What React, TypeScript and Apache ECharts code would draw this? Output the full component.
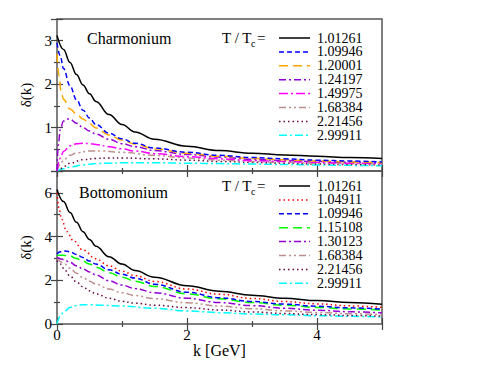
import React, { useEffect, useRef } from "react";
import * as echarts from "echarts";

const FONT = "Liberation Serif";

// ---- Charmonium (top panel) ----
const charmNames = ["1.01261", "1.09946", "1.20001", "1.24197", "1.49975", "1.68384", "2.21456", "2.99911"];
const cK1 = [0, 0.1, 0.2, 0.3, 0.4, 0.5, 0.6, 0.8, 1.0, 1.2, 1.5, 2, 2.5, 3, 3.5, 4, 4.5, 5];
const cV1 = [3.12, 2.8, 2.5, 2.22, 1.98, 1.78, 1.6, 1.3, 1.07, 0.9, 0.73, 0.57, 0.47, 0.41, 0.37, 0.34, 0.31, 0.29];
const cK2 = [0, 0.05, 0.1, 0.2, 0.3, 0.4, 0.5, 0.6, 0.8, 1.0, 1.2, 1.5, 2, 2.5, 3, 3.5, 4, 4.5, 5];
const cV2 = [2.95, 2.65, 2.36, 1.96, 1.64, 1.40, 1.22, 1.07, 0.87, 0.74, 0.64, 0.53, 0.43, 0.36, 0.31, 0.28, 0.25, 0.23, 0.21];
const cK3 = [0, 0.03, 0.06, 0.1, 0.2, 0.3, 0.4, 0.5, 0.6, 0.8, 1.0, 1.2, 1.5, 2, 2.5, 3, 3.5, 4, 4.5, 5];
const cV3 = [2.7, 2.2, 1.85, 1.65, 1.43, 1.31, 1.2, 1.09, 0.99, 0.83, 0.71, 0.62, 0.51, 0.41, 0.34, 0.29, 0.26, 0.23, 0.21, 0.19];
const cK4 = [0, 0.02, 0.05, 0.1, 0.15, 0.2, 0.3, 0.4, 0.5, 0.6, 0.8, 1.0, 1.2, 1.5, 2, 2.5, 3, 3.5, 4, 4.5, 5];
const cV4 = [0, 0.6, 0.95, 1.15, 1.2, 1.19, 1.1, 1.0, 0.92, 0.85, 0.73, 0.63, 0.56, 0.47, 0.38, 0.32, 0.27, 0.24, 0.22, 0.20, 0.18];
const cK5 = [0, 0.05, 0.1, 0.2, 0.3, 0.4, 0.5, 0.6, 0.8, 1.0, 1.2, 1.5, 2, 2.5, 3, 3.5, 4, 4.5, 5];
const cV5 = [0, 0.3, 0.45, 0.58, 0.63, 0.64, 0.63, 0.61, 0.56, 0.51, 0.46, 0.40, 0.33, 0.28, 0.24, 0.22, 0.20, 0.18, 0.17];
const cK6 = [0, 0.05, 0.1, 0.2, 0.3, 0.5, 0.7, 1.0, 1.5, 2, 2.5, 3, 3.5, 4, 4.5, 5];
const cV6 = [0, 0.15, 0.25, 0.36, 0.42, 0.46, 0.46, 0.43, 0.36, 0.30, 0.25, 0.22, 0.20, 0.18, 0.17, 0.16];
const cK7 = [0, 0.05, 0.1, 0.2, 0.4, 0.6, 0.8, 1.0, 1.5, 2, 2.5, 3, 3.5, 4, 4.5, 5];
const cV7 = [0, 0.05, 0.1, 0.18, 0.26, 0.29, 0.30, 0.30, 0.28, 0.25, 0.22, 0.20, 0.18, 0.16, 0.15, 0.14];
const cK8 = [0, 0.1, 0.2, 0.4, 0.6, 0.8, 1.0, 1.5, 2, 2.5, 3, 3.5, 4, 4.5, 5];
const cV8 = [0, 0.05, 0.09, 0.14, 0.17, 0.18, 0.19, 0.19, 0.18, 0.17, 0.16, 0.15, 0.14, 0.13, 0.12];

// ---- Bottomonium (bottom panel) ----
const bottNames = ["1.01261", "1.04911", "1.09946", "1.15108", "1.30123", "1.68384", "2.21456", "2.99911"];
const bK = [0, 0.1, 0.2, 0.3, 0.4, 0.5, 0.6, 0.8, 1.0, 1.2, 1.5, 2, 2.5, 3, 3.5, 4, 4.5, 5];
const bV1 = [6.15, 5.6, 5.1, 4.65, 4.22, 3.87, 3.56, 3.08, 2.74, 2.45, 2.14, 1.75, 1.5, 1.32, 1.18, 1.07, 0.98, 0.9];
const bK2 = [0, 0.03, 0.07, 0.15, 0.25, 0.4, 0.6, 0.8, 1.0, 1.2, 1.5, 2, 2.5, 3, 3.5, 4, 4.5, 5];
const bV2 = [6.0, 5.3, 4.8, 4.23, 3.82, 3.38, 2.98, 2.66, 2.42, 2.21, 1.95, 1.6, 1.36, 1.17, 1.03, 0.92, 0.83, 0.76];
const bK3 = [0, 0.05, 0.1, 0.15, 0.2, 0.3, 0.4, 0.5, 0.6, 0.8, 1.0, 1.2, 1.5, 2, 2.5, 3, 3.5, 4, 4.5, 5];
const bV3 = [3.2, 3.3, 3.34, 3.33, 3.3, 3.18, 3.04, 2.88, 2.74, 2.48, 2.28, 2.1, 1.82, 1.45, 1.2, 1.03, 0.91, 0.81, 0.74, 0.68];
const bV4 = [3.15, 3.14, 3.1, 3.0, 2.88, 2.74, 2.6, 2.35, 2.14, 1.96, 1.72, 1.38, 1.15, 0.98, 0.86, 0.76, 0.69, 0.63];
const bV5 = [3.05, 2.95, 2.82, 2.66, 2.52, 2.38, 2.24, 1.98, 1.78, 1.62, 1.43, 1.18, 0.98, 0.84, 0.72, 0.63, 0.56, 0.51];
const bV6 = [3.0, 2.8, 2.55, 2.32, 2.12, 1.96, 1.82, 1.6, 1.43, 1.3, 1.16, 0.97, 0.82, 0.7, 0.6, 0.53, 0.47, 0.43];
const bK7 = [0, 0.05, 0.1, 0.2, 0.3, 0.4, 0.5, 0.6, 0.8, 1.0, 1.2, 1.5, 2, 2.5, 3, 3.5, 4, 4.5, 5];
const bV7 = [2.9, 2.75, 2.55, 2.2, 1.92, 1.7, 1.52, 1.38, 1.18, 1.04, 0.95, 0.86, 0.75, 0.64, 0.55, 0.48, 0.43, 0.39, 0.36];
const bK8 = [0, 0.05, 0.1, 0.2, 0.3, 0.4, 0.5, 0.7, 1.0, 1.5, 2, 2.5, 3, 3.5, 4, 4.5, 5];
const bV8 = [0, 0.35, 0.55, 0.76, 0.85, 0.88, 0.88, 0.86, 0.82, 0.72, 0.6, 0.52, 0.46, 0.42, 0.38, 0.35, 0.32];

const STY: Record<string, { color: string; type: any }> = {
  "1.01261": { color: "#000000", type: "solid" },
  "1.04911": { color: "#ff0000", type: [1.5, 3] },
  "1.09946": { color: "#0000ff", type: [5, 3] },
  "1.15108": { color: "#00ff00", type: [9, 5] },
  "1.20001": { color: "#ffa500", type: [9, 5] },
  "1.24197": { color: "#9400d3", type: [7, 3, 2, 3] },
  "1.30123": { color: "#9400d3", type: [7, 3, 2, 3] },
  "1.49975": { color: "#ff00ff", type: [9, 3, 2, 3] },
  "1.68384": { color: "#bc8f8f", type: [7, 3, 2, 3, 2, 3] },
  "2.21456": { color: "#670748", type: [1.5, 3] },
  "2.99911": { color: "#00ffff", type: [8, 3, 2, 3] },
};

function pairs(k: number[], v: number[]) {
  return k.map((x, i) => [x, v[i]]);
}

function legendGraphics(names: string[], y0: number) {
  const els: any[] = [];
  names.forEach((n, i) => {
    const y = y0 + i * 13.9;
    const s = STY[n];
    els.push({
      type: "line",
      shape: { x1: 279, y1: y, x2: 310, y2: y },
      style: { stroke: s.color, lineWidth: 1.5, lineDash: s.type === "solid" ? null : s.type },
    });
    els.push({
      type: "text",
      x: 317,
      y,
      style: { text: n, fontFamily: FONT, fontSize: 14, fill: "#000", verticalAlign: "middle", align: "left" },
    });
  });
  return els;
}

export default function App() {
  const ref = useRef<HTMLDivElement>(null);
  useEffect(() => {
    if (!ref.current) return;
    const chart = echarts.init(ref.current, null, { renderer: "svg" });
    const tickCol = "#444";
    const labelStyle = { fontFamily: FONT, fontSize: 15, color: "#000" };

    const mkX = (grid: number, pos: string, labels: boolean) => ({
      type: "value",
      gridIndex: grid,
      position: pos,
      min: 0,
      max: 5,
      interval: 2,
      axisLine: { show: false },
      axisTick: { show: true, inside: true, length: 6, lineStyle: { color: tickCol, width: 1.2 } },
      minorTick: { show: true, splitNumber: 2, length: 3, lineStyle: { color: tickCol, width: 1.2 } },
      splitLine: { show: false },
      axisLabel: { show: labels, margin: 3, showMaxLabel: false, ...labelStyle },
    });
    const mkY = (grid: number, pos: string, max: number, interval: number, labels: boolean, showMin: boolean) => ({
      type: "value",
      gridIndex: grid,
      position: pos,
      min: 0,
      max,
      interval,
      axisLine: { show: false },
      axisTick: { show: true, inside: true, length: 6, lineStyle: { color: tickCol, width: 1.2 } },
      minorTick: { show: true, splitNumber: 2, length: 3, lineStyle: { color: tickCol, width: 1.2 } },
      splitLine: { show: false },
      axisLabel: { show: labels, margin: 5, showMinLabel: showMin, showMaxLabel: false, ...labelStyle },
    });

    const topSeries = [
      [cK1, cV1], [cK2, cV2], [cK3, cV3], [cK4, cV4], [cK5, cV5], [cK6, cV6], [cK7, cV7], [cK8, cV8],
    ].map(([k, v], i) => ({
      type: "line",
      name: charmNames[i],
      xAxisIndex: 0,
      yAxisIndex: 0,
      data: pairs(k as number[], v as number[]),
      showSymbol: false,
      symbol: "none",
      smooth: 0.4,
      smoothMonotone: "x",
      lineStyle: { width: 1.5, color: STY[charmNames[i]].color, type: STY[charmNames[i]].type },
      itemStyle: { color: STY[charmNames[i]].color },
      z: 10 - i,
    }));
    const bottomSeries = [
      [bK, bV1], [bK2, bV2], [bK3, bV3], [bK, bV4], [bK, bV5], [bK, bV6], [bK7, bV7], [bK8, bV8],
    ].map(([k, v], i) => ({
      type: "line",
      name: bottNames[i],
      xAxisIndex: 2,
      yAxisIndex: 2,
      data: pairs(k as number[], v as number[]),
      showSymbol: false,
      symbol: "none",
      smooth: 0.4,
      smoothMonotone: "x",
      lineStyle: { width: 1.5, color: STY[bottNames[i]].color, type: STY[bottNames[i]].type },
      itemStyle: { color: STY[bottNames[i]].color },
      z: 10 - i,
    }));

    const txt = (x: number, y: number, text: string, size: number) => ({
      type: "text",
      x,
      y,
      style: { text, fontFamily: FONT, fontSize: size, fill: "#000", verticalAlign: "middle", align: "left" },
    });

    chart.setOption({
      animation: false,
      backgroundColor: "#fff",
      grid: [
        { left: 57, top: 19, width: 325, height: 152, show: true, borderColor: "#555", borderWidth: 1.5, backgroundColor: "transparent" },
        { left: 57, top: 171, width: 325, height: 153, show: true, borderColor: "#555", borderWidth: 1.5, backgroundColor: "transparent" },
      ],
      xAxis: [
        mkX(0, "bottom", false),
        mkX(0, "top", false),
        {
          ...mkX(1, "bottom", true),
          name: "k [GeV]",
          nameLocation: "middle",
          nameGap: 18,
          nameTextStyle: { fontFamily: FONT, fontSize: 16, color: "#000" },
        },
        mkX(1, "top", false),
      ],
      yAxis: [
        {
          ...mkY(0, "left", 3.5, 1, true, false),
          name: "δ(k)",
          nameLocation: "middle",
          nameGap: 20,
          nameTextStyle: { fontFamily: FONT, fontSize: 15, color: "#000" },
        },
        mkY(0, "right", 3.5, 1, false, false),
        {
          ...mkY(1, "left", 7, 2, true, true),
          name: "δ(k)",
          nameLocation: "middle",
          nameGap: 20,
          nameTextStyle: { fontFamily: FONT, fontSize: 15, color: "#000" },
        },
        mkY(1, "right", 7, 2, false, false),
      ],
      graphic: [
        txt(87, 38, "Charmonium", 16),
        txt(79, 192, "Bottomonium", 16),
        txt(222, 38, "T / T", 15),
        txt(251, 43, "c", 10),
        txt(257, 38, "=", 15),
        txt(222, 186, "T / T", 15),
        txt(251, 191, "c", 10),
        txt(257, 186, "=", 15),
        ...legendGraphics(charmNames, 38),
        ...legendGraphics(bottNames, 186),
      ],
      series: [...topSeries, ...bottomSeries],
    });
    return () => chart.dispose();
  }, []);
  return (
    <div
      ref={ref}
      style={{ position: "fixed", left: 0, top: 0, width: 494, height: 382, background: "#fff" }}
    />
  );
}
